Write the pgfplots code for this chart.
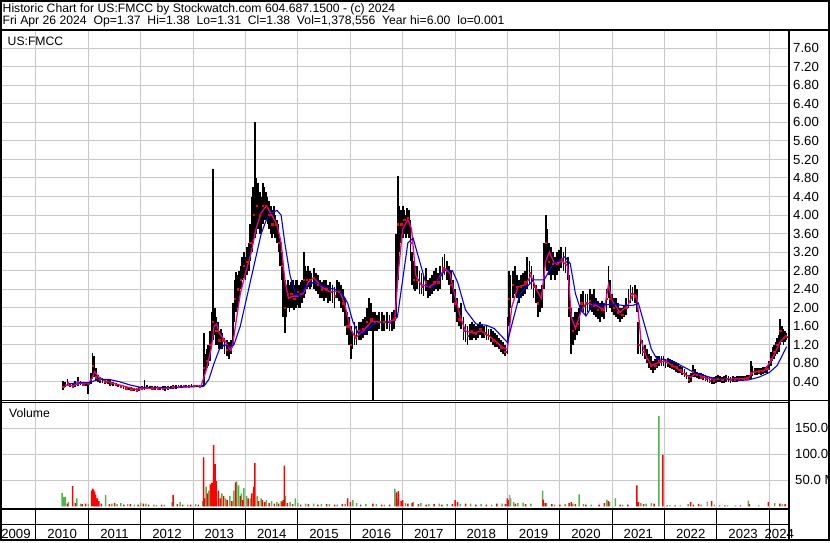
\documentclass[border=0pt]{standalone}
\usepackage{pgfplots}
\usepackage{pgfplotstable}
\pgfplotsset{compat=1.18}
\usepackage{fontspec}
\setmainfont{Liberation Sans}
\definecolor{gridc}{RGB}{200,200,200}
\definecolor{vgreen}{RGB}{76,184,72}
\definecolor{vred}{RGB}{255,0,0}
\definecolor{vgray}{RGB}{160,160,160}

\pgfplotstableread{
t lo hi cl
2010.52 0.22 0.42 0.30
2010.55 0.28 0.40 0.35
2010.60 0.30 0.45 0.38
2010.65 0.28 0.38 0.32
2010.70 0.27 0.36 0.30
2010.75 0.28 0.42 0.35
2010.80 0.32 0.50 0.40
2010.85 0.33 0.42 0.36
2010.90 0.32 0.40 0.35
2010.95 0.30 0.38 0.34
2011.00 0.13 0.40 0.36
2011.05 0.35 0.60 0.50
2011.08 0.45 1.03 0.75
2011.11 0.50 0.95 0.60
2011.14 0.42 0.70 0.50
2011.18 0.40 0.55 0.45
2011.22 0.38 0.50 0.44
2011.27 0.38 0.48 0.42
2011.32 0.36 0.46 0.40
2011.37 0.35 0.45 0.40
2011.42 0.32 0.43 0.37
2011.47 0.30 0.40 0.35
2011.52 0.30 0.38 0.33
2011.57 0.28 0.36 0.31
2011.62 0.26 0.34 0.29
2011.67 0.25 0.32 0.28
2011.72 0.24 0.30 0.26
2011.77 0.22 0.29 0.25
2011.82 0.21 0.28 0.24
2011.87 0.20 0.27 0.23
2011.92 0.20 0.27 0.22
2011.97 0.20 0.28 0.24
2012.02 0.22 0.30 0.26
2012.07 0.23 0.44 0.30
2012.12 0.24 0.34 0.28
2012.17 0.24 0.31 0.27
2012.22 0.23 0.30 0.26
2012.27 0.23 0.30 0.27
2012.32 0.24 0.30 0.26
2012.37 0.23 0.29 0.26
2012.42 0.22 0.30 0.25
2012.47 0.20 0.30 0.26
2012.52 0.23 0.31 0.27
2012.57 0.24 0.32 0.28
2012.62 0.25 0.34 0.29
2012.67 0.25 0.33 0.28
2012.72 0.26 0.33 0.29
2012.77 0.27 0.34 0.30
2012.82 0.28 0.34 0.31
2012.87 0.28 0.34 0.31
2012.92 0.28 0.34 0.30
2012.97 0.28 0.35 0.31
2013.02 0.28 0.34 0.31
2013.07 0.29 0.34 0.31
2013.12 0.28 0.33 0.30
2013.17 0.28 0.33 0.30
2013.20 0.30 1.45 0.70
2013.23 0.60 1.00 0.80
2013.26 0.70 1.10 0.85
2013.29 0.75 1.20 0.95
2013.32 0.85 1.50 1.20
2013.35 1.10 1.90 1.60
2013.38 1.30 5.00 1.70
2013.41 1.40 2.00 1.80
2013.44 1.20 1.80 1.50
2013.47 1.20 1.70 1.40
2013.50 1.10 1.50 1.30
2013.53 1.10 1.55 1.25
2013.56 1.10 1.45 1.30
2013.60 1.00 1.35 1.20
2013.64 0.95 1.30 1.10
2013.68 0.90 1.25 1.05
2013.72 1.00 1.30 1.10
2013.76 1.20 2.10 1.80
2013.79 1.70 2.60 2.20
2013.82 1.90 2.77 2.30
2013.85 2.00 2.70 2.40
2013.88 2.20 2.80 2.50
2013.91 2.40 2.90 2.60
2013.94 2.60 3.10 2.80
2013.97 2.65 3.20 2.90
2014.00 2.60 3.10 2.80
2014.03 2.70 3.30 3.00
2014.06 2.80 3.40 3.10
2014.09 3.00 3.80 3.40
2014.12 3.20 4.40 3.70
2014.15 3.40 4.60 4.00
2014.18 3.50 6.00 4.10
2014.21 3.60 4.80 4.20
2014.24 3.70 4.70 4.10
2014.27 3.60 4.50 4.00
2014.30 3.60 4.40 4.00
2014.33 3.80 4.70 4.20
2014.36 3.90 4.60 4.30
2014.39 3.90 4.50 4.20
2014.42 3.80 4.40 4.10
2014.45 3.70 4.30 4.00
2014.48 3.60 4.20 3.90
2014.51 3.50 4.10 3.80
2014.54 3.60 4.20 3.90
2014.57 3.50 4.00 3.80
2014.60 3.40 3.90 3.60
2014.63 3.20 3.80 3.40
2014.66 2.90 3.50 3.10
2014.69 2.60 3.20 2.90
2014.72 1.80 2.90 2.20
2014.75 1.45 2.60 2.00
2014.78 1.80 2.50 2.20
2014.81 2.00 2.60 2.30
2014.84 1.90 2.50 2.20
2014.87 2.00 2.55 2.30
2014.90 2.00 2.60 2.25
2014.93 1.95 2.50 2.20
2014.96 2.00 2.60 2.30
2014.99 2.05 2.60 2.35
2015.02 2.00 2.50 2.25
2015.05 2.00 2.55 2.30
2015.08 2.10 2.60 2.35
2015.11 2.20 3.20 2.60
2015.14 2.30 2.90 2.60
2015.17 2.40 2.80 2.60
2015.20 2.45 2.90 2.70
2015.23 2.40 2.80 2.60
2015.26 2.45 2.75 2.60
2015.30 2.40 2.85 2.65
2015.34 2.35 2.75 2.55
2015.38 2.30 2.70 2.50
2015.42 2.20 2.60 2.40
2015.46 2.20 2.55 2.40
2015.50 2.15 2.60 2.35
2015.54 2.20 2.60 2.40
2015.58 2.10 2.50 2.30
2015.62 2.15 2.55 2.35
2015.66 2.10 2.50 2.30
2015.70 2.00 2.45 2.25
2015.74 2.20 2.60 2.40
2015.78 2.15 2.55 2.35
2015.82 2.00 2.50 2.20
2015.86 1.90 2.40 2.10
2015.90 1.60 2.20 1.80
2015.94 1.40 1.90 1.60
2015.98 1.20 1.80 1.40
2016.01 0.90 1.60 1.20
2016.04 1.10 1.50 1.30
2016.08 1.20 1.70 1.40
2016.12 1.20 1.60 1.40
2016.16 1.30 1.70 1.50
2016.20 1.30 1.70 1.50
2016.24 1.35 1.75 1.55
2016.28 1.40 1.80 1.60
2016.32 1.40 2.00 1.70
2016.36 1.50 2.20 1.80
2016.40 1.50 2.10 1.75
2016.43 0.00 1.90 1.70
2016.47 1.50 1.90 1.70
2016.51 1.50 1.85 1.65
2016.55 1.55 1.90 1.70
2016.60 1.50 1.90 1.65
2016.65 1.50 1.85 1.70
2016.70 1.55 1.90 1.72
2016.75 1.50 1.85 1.68
2016.80 1.50 1.90 1.70
2016.84 1.55 1.95 1.75
2016.88 1.80 3.60 3.00
2016.91 2.60 4.84 3.80
2016.94 3.20 4.20 3.80
2016.97 3.40 4.10 3.80
2017.00 3.50 4.20 3.90
2017.03 3.60 4.10 3.90
2017.06 3.50 4.00 3.80
2017.09 3.60 4.15 3.95
2017.12 3.50 4.10 3.90
2017.15 3.00 3.90 3.40
2017.18 2.50 3.20 2.80
2017.21 2.40 3.00 2.60
2017.24 2.35 2.90 2.60
2017.28 2.40 2.90 2.60
2017.32 2.30 2.80 2.50
2017.36 2.30 2.75 2.45
2017.40 2.25 2.70 2.40
2017.44 2.35 2.85 2.55
2017.48 2.20 2.60 2.40
2017.52 2.25 2.65 2.45
2017.56 2.30 2.70 2.50
2017.60 2.35 2.80 2.55
2017.64 2.40 2.85 2.60
2017.68 2.35 2.75 2.55
2017.72 2.40 2.90 2.65
2017.76 2.60 3.10 2.85
2017.80 2.70 3.15 2.90
2017.84 2.60 3.00 2.80
2017.88 2.50 2.90 2.70
2017.92 2.30 2.80 2.50
2017.96 2.10 2.60 2.30
2018.00 1.90 2.40 2.10
2018.04 1.70 2.20 1.90
2018.08 1.60 2.00 1.75
2018.12 1.55 2.10 1.70
2018.16 1.30 1.80 1.50
2018.20 1.25 1.65 1.45
2018.24 1.20 1.60 1.40
2018.28 1.30 1.65 1.45
2018.32 1.30 1.70 1.50
2018.36 1.35 1.65 1.50
2018.40 1.30 1.60 1.45
2018.44 1.35 1.65 1.50
2018.48 1.40 1.70 1.55
2018.52 1.35 1.65 1.50
2018.56 1.35 1.60 1.45
2018.60 1.30 1.60 1.45
2018.64 1.30 1.55 1.40
2018.68 1.25 1.55 1.35
2018.72 1.20 1.50 1.30
2018.76 1.15 1.45 1.25
2018.80 1.15 1.40 1.25
2018.84 1.10 1.35 1.20
2018.88 1.05 1.30 1.15
2018.92 1.00 1.25 1.10
2018.96 0.95 1.20 1.05
2019.00 1.00 1.80 1.50
2019.03 1.60 2.80 2.20
2019.06 2.00 2.70 2.40
2019.10 2.20 2.80 2.50
2019.14 2.30 2.90 2.60
2019.18 2.20 2.70 2.45
2019.22 2.10 2.60 2.35
2019.26 2.20 2.70 2.45
2019.30 2.25 2.75 2.50
2019.34 2.30 2.80 2.55
2019.38 2.40 3.10 2.70
2019.42 2.50 3.00 2.75
2019.46 2.40 2.90 2.65
2019.50 2.20 2.70 2.45
2019.54 2.10 2.50 2.30
2019.58 1.80 2.40 2.10
2019.62 1.90 2.40 2.15
2019.66 2.00 2.50 2.30
2019.70 2.40 3.40 3.00
2019.73 2.90 4.00 3.40
2019.76 2.80 3.70 3.20
2019.79 2.70 3.40 3.00
2019.83 2.60 3.30 2.90
2019.87 2.70 3.20 2.95
2019.91 2.60 3.10 2.85
2019.95 2.70 3.20 2.95
2019.99 2.80 3.25 3.00
2020.03 2.85 3.30 3.05
2020.07 2.80 3.20 3.00
2020.11 2.75 3.30 3.00
2020.15 2.60 3.10 2.80
2020.18 1.80 2.70 2.00
2020.21 1.00 2.00 1.40
2020.25 1.20 1.80 1.50
2020.29 1.30 1.90 1.60
2020.33 1.40 1.90 1.65
2020.37 1.50 2.00 1.75
2020.41 1.90 2.30 2.10
2020.45 1.90 2.35 2.15
2020.49 1.85 2.30 2.10
2020.53 1.90 2.30 2.10
2020.57 1.95 2.40 2.15
2020.61 1.90 2.30 2.10
2020.65 1.85 2.40 2.05
2020.69 1.80 2.20 2.00
2020.73 1.75 2.15 1.95
2020.77 1.70 2.10 1.90
2020.81 1.80 2.15 1.95
2020.85 1.75 2.10 1.90
2020.89 1.90 2.40 2.20
2020.93 2.20 2.90 2.60
2020.96 2.00 2.60 2.20
2020.99 1.90 2.30 2.05
2021.03 1.85 2.20 2.00
2021.07 1.80 2.20 1.95
2021.11 1.75 2.10 1.90
2021.15 1.70 2.00 1.85
2021.19 1.75 2.00 1.85
2021.23 1.80 2.05 1.90
2021.27 1.85 2.20 2.00
2021.31 2.00 2.40 2.20
2021.35 2.10 2.50 2.30
2021.39 2.15 2.45 2.30
2021.43 2.10 2.50 2.25
2021.47 1.90 2.40 2.10
2021.50 1.00 1.70 1.20
2021.54 1.00 1.40 1.15
2021.58 0.95 1.30 1.05
2021.62 0.90 1.20 1.00
2021.66 0.80 1.10 0.90
2021.70 0.70 1.00 0.80
2021.74 0.65 0.95 0.75
2021.78 0.60 0.85 0.70
2021.82 0.65 0.90 0.75
2021.86 0.70 0.95 0.85
2021.90 0.75 0.95 0.85
2021.94 0.75 0.95 0.85
2021.98 0.75 0.95 0.85
2022.02 0.70 0.90 0.80
2022.06 0.72 0.92 0.82
2022.10 0.70 0.90 0.78
2022.14 0.68 0.88 0.76
2022.18 0.65 0.85 0.74
2022.22 0.62 0.82 0.72
2022.26 0.60 0.80 0.70
2022.30 0.58 0.75 0.66
2022.34 0.55 0.72 0.62
2022.38 0.50 0.68 0.58
2022.42 0.45 0.62 0.52
2022.46 0.38 0.55 0.45
2022.50 0.40 0.60 0.50
2022.54 0.50 0.76 0.62
2022.58 0.50 0.68 0.58
2022.62 0.48 0.62 0.55
2022.66 0.46 0.60 0.52
2022.70 0.45 0.58 0.50
2022.74 0.44 0.56 0.50
2022.78 0.42 0.55 0.48
2022.82 0.40 0.52 0.45
2022.86 0.38 0.50 0.43
2022.90 0.36 0.48 0.42
2022.94 0.35 0.50 0.42
2022.98 0.38 0.52 0.45
2023.02 0.40 0.55 0.47
2023.06 0.40 0.52 0.46
2023.10 0.38 0.50 0.44
2023.14 0.38 0.52 0.45
2023.18 0.40 0.55 0.47
2023.22 0.40 0.52 0.46
2023.26 0.38 0.50 0.45
2023.30 0.40 0.52 0.46
2023.34 0.40 0.50 0.45
2023.38 0.40 0.52 0.46
2023.42 0.42 0.52 0.47
2023.46 0.42 0.53 0.48
2023.50 0.42 0.52 0.47
2023.54 0.43 0.53 0.48
2023.58 0.43 0.54 0.48
2023.62 0.44 0.55 0.49
2023.65 0.45 0.85 0.60
2023.68 0.52 0.75 0.60
2023.72 0.55 0.70 0.62
2023.76 0.55 0.70 0.62
2023.80 0.56 0.70 0.63
2023.84 0.55 0.70 0.62
2023.88 0.56 0.72 0.64
2023.92 0.58 0.72 0.65
2023.96 0.60 0.75 0.68
2024.00 0.65 0.85 0.75
2024.03 0.75 1.05 0.90
2024.06 0.85 1.15 1.00
2024.09 0.90 1.20 1.05
2024.12 0.95 1.25 1.10
2024.15 1.00 1.35 1.20
2024.18 1.05 1.40 1.25
2024.21 1.20 1.75 1.50
2024.24 1.25 1.60 1.40
2024.27 1.20 1.55 1.35
2024.30 1.25 1.50 1.40
2024.33 1.31 1.45 1.38
}\price

\pgfplotstableread{
t v
2010.55 0.33
2010.70 0.32
2010.85 0.37
2011.00 0.36
2011.08 0.50
2011.12 0.62
2011.20 0.50
2011.30 0.43
2011.50 0.36
2011.70 0.30
2011.90 0.24
2012.10 0.26
2012.30 0.27
2012.50 0.26
2012.70 0.28
2012.90 0.30
2013.15 0.31
2013.25 0.65
2013.35 1.15
2013.40 1.60
2013.45 1.65
2013.50 1.45
2013.60 1.30
2013.70 1.10
2013.75 1.15
2013.82 1.70
2013.90 2.30
2014.00 2.75
2014.10 3.15
2014.20 3.70
2014.30 4.05
2014.40 4.20
2014.50 4.00
2014.60 3.80
2014.68 3.40
2014.75 2.60
2014.82 2.20
2014.90 2.25
2015.00 2.25
2015.10 2.30
2015.20 2.55
2015.30 2.65
2015.45 2.45
2015.60 2.35
2015.80 2.35
2015.90 2.05
2016.00 1.55
2016.10 1.35
2016.25 1.50
2016.40 1.70
2016.50 1.70
2016.70 1.68
2016.85 1.75
2016.92 2.80
2017.00 3.70
2017.10 3.90
2017.17 3.70
2017.25 2.70
2017.35 2.50
2017.50 2.45
2017.65 2.55
2017.80 2.85
2017.90 2.75
2018.00 2.25
2018.10 1.80
2018.20 1.50
2018.35 1.45
2018.50 1.50
2018.70 1.35
2018.90 1.15
2019.00 1.10
2019.08 2.00
2019.20 2.45
2019.35 2.50
2019.45 2.70
2019.55 2.40
2019.65 2.20
2019.73 3.00
2019.80 3.20
2019.90 2.95
2020.05 3.00
2020.15 2.90
2020.22 1.80
2020.30 1.55
2020.40 1.90
2020.50 2.10
2020.70 2.05
2020.85 1.95
2020.93 2.50
2021.00 2.15
2021.15 1.90
2021.30 2.05
2021.40 2.30
2021.47 2.25
2021.55 1.30
2021.65 0.95
2021.75 0.75
2021.85 0.80
2022.00 0.85
2022.20 0.72
2022.40 0.55
2022.50 0.50
2022.60 0.58
2022.80 0.48
2023.00 0.45
2023.30 0.46
2023.60 0.48
2023.70 0.62
2023.90 0.64
2024.05 0.88
2024.20 1.25
2024.33 1.41
}\mashort

\pgfplotstableread{
t v
2010.60 0.35
2010.80 0.38
2011.00 0.38
2011.20 0.45
2011.40 0.45
2011.60 0.40
2011.80 0.33
2012.00 0.28
2012.30 0.28
2012.60 0.27
2012.90 0.29
2013.20 0.30
2013.30 0.45
2013.40 0.80
2013.50 1.10
2013.60 1.20
2013.70 1.15
2013.78 1.20
2013.90 1.60
2014.00 2.10
2014.10 2.60
2014.20 3.10
2014.30 3.60
2014.40 3.90
2014.50 4.05
2014.60 4.10
2014.68 4.00
2014.75 3.40
2014.85 2.70
2014.95 2.30
2015.05 2.25
2015.15 2.45
2015.30 2.55
2015.50 2.45
2015.70 2.40
2015.85 2.30
2015.95 2.10
2016.05 1.70
2016.15 1.45
2016.25 1.45
2016.35 1.55
2016.50 1.68
2016.80 1.68
2016.90 1.80
2017.00 2.60
2017.10 3.40
2017.20 3.50
2017.30 3.10
2017.45 2.50
2017.55 2.42
2017.65 2.55
2017.80 2.80
2017.95 2.80
2018.05 2.55
2018.20 1.95
2018.40 1.65
2018.60 1.62
2018.75 1.55
2019.00 1.25
2019.10 1.70
2019.24 2.30
2019.50 2.60
2019.70 2.60
2019.88 2.95
2020.10 3.10
2020.20 2.95
2020.30 2.30
2020.40 1.95
2020.50 1.82
2020.65 2.10
2020.80 2.05
2021.00 2.08
2021.20 2.05
2021.40 2.05
2021.50 2.10
2021.60 1.70
2021.75 1.10
2021.85 0.90
2022.00 0.88
2022.20 0.82
2022.40 0.70
2022.60 0.58
2022.80 0.52
2023.00 0.46
2023.30 0.44
2023.60 0.44
2023.80 0.50
2024.00 0.60
2024.15 0.75
2024.33 1.16
}\malong

\pgfplotstableread{
t v
2010.50 26
2010.53 18
2010.56 18
2010.62 8
2010.78 15
2010.85 5
2011.00 4
2011.18 6
2011.33 22
2011.45 5
2011.55 4
2011.62 6
2011.75 4
2011.88 3
2012.00 7
2012.10 5
2012.25 3
2012.45 3
2012.60 8
2012.75 8
2012.90 3
2013.05 4
2013.18 10
2013.25 38
2013.30 30
2013.39 60
2013.45 20
2013.55 25
2013.62 15
2013.70 20
2013.78 30
2013.83 48
2013.87 40
2013.92 25
2013.97 35
2014.02 20
2014.10 15
2014.15 31
2014.22 20
2014.30 15
2014.40 12
2014.50 10
2014.60 8
2014.68 10
2014.76 20
2014.85 8
2014.95 15
2015.00 6
2015.15 5
2015.30 5
2015.45 4
2015.60 4
2015.75 3
2015.90 4
2016.05 12
2016.12 6
2016.30 4
2016.50 4
2016.65 3
2016.85 34
2016.90 14
2017.05 6
2017.20 8
2017.35 6
2017.50 4
2017.70 5
2017.85 4
2018.10 4
2018.30 5
2018.50 4
2018.70 3
2018.90 5
2019.06 15
2019.12 8
2019.20 6
2019.30 7
2019.45 5
2019.67 30
2019.75 6
2019.90 3
2020.10 4
2020.25 5
2020.37 23
2020.45 4
2020.60 3
2020.90 13
2020.95 8
2021.06 15
2021.20 3
2021.55 6
2021.65 5
2021.75 6
2021.89 174
2022.10 2
2022.30 2
2022.45 4
2022.70 3
2022.95 3
2023.20 2
2023.35 2
2023.60 11
2023.80 2
2024.10 6
2024.25 4
}\volgreen

\pgfplotstableread{
t v
2010.60 5
2010.70 39
2010.75 6
2010.88 4
2010.95 5
2011.06 30
2011.08 34
2011.10 32
2011.12 28
2011.14 22
2011.17 15
2011.20 10
2011.25 5
2011.40 4
2011.50 6
2011.68 3
2011.80 4
2011.95 3
2012.05 5
2012.15 3
2012.30 2
2012.40 3
2012.62 22
2012.70 4
2012.80 3
2012.95 3
2013.10 3
2013.20 94
2013.22 15
2013.27 25
2013.33 42
2013.36 45
2013.39 118
2013.42 81
2013.44 49
2013.48 30
2013.52 15
2013.58 20
2013.65 12
2013.74 10
2013.81 46
2013.90 20
2013.95 12
2014.05 15
2014.12 25
2014.16 38
2014.18 83
2014.25 10
2014.32 12
2014.37 8
2014.45 6
2014.55 5
2014.63 5
2014.70 8
2014.72 12
2014.74 78
2014.80 6
2014.90 4
2015.05 3
2015.20 4
2015.38 3
2015.55 4
2015.70 3
2015.85 4
2015.95 15
2016.00 8
2016.20 3
2016.43 5
2016.60 3
2016.75 3
2016.88 27
2016.92 29
2016.97 10
2017.00 12
2017.10 5
2017.18 6
2017.30 4
2017.45 3
2017.60 4
2017.75 3
2017.95 4
2018.00 12
2018.05 8
2018.20 5
2018.40 3
2018.60 3
2018.80 5
2018.96 4
2019.00 15
2019.03 12
2019.15 5
2019.35 4
2019.68 13
2019.72 6
2019.85 4
2020.00 3
2020.18 6
2020.22 8
2020.30 4
2020.50 3
2020.75 3
2020.85 6
2020.93 10
2021.15 3
2021.30 3
2021.47 40
2021.50 8
2021.60 4
2021.80 5
2021.97 99
2022.05 2
2022.20 2
2022.50 8
2022.55 3
2022.65 4
2022.90 10
2023.05 2
2023.15 2
2023.45 2
2023.62 4
2023.98 8
2024.20 5
2024.30 4
}\volred

\pgfplotstableread{
t v
2019.04 22
2022.82 9
}\volgray

\begin{document}
\begin{tikzpicture}[x=1pt,y=1pt,font=\fontsize{13.2}{16}\selectfont]
\useasboundingbox (0,0) rectangle (830,543);
\clip (0,0) rectangle (830,543);

% ---------------- price panel ----------------
\begin{axis}[
  at={(1pt,142.2pt)}, anchor=south west,
  scale only axis, width=788.2pt, height=369.5pt,
  xmin=2009.332, xmax=2024.38,
  ymin=-0.01, ymax=7.967,
  axis line style={draw=none},
  major tick length=0pt,
  xtick={2010,2011,...,2024}, xticklabels={},
  ytick={0.4,0.8,...,7.65},
  yticklabel pos=right,
  grid=major,
  grid style={gridc, line width=1pt},
  /pgf/number format/assume math mode=true,
  yticklabel style={anchor=west, inner sep=0pt, xshift=3.8pt,
    /pgf/number format/fixed, /pgf/number format/fixed zerofill,
    /pgf/number format/precision=2},
  clip=true,
]
\addplot[draw=none, mark=none,
  error bars/.cd, y dir=minus, y explicit, error mark=none,
  error bar style={draw=black, solid, line width=1.8pt}]
  table[x=t, y=hi, y error minus expr=\thisrow{hi}-\thisrow{lo}] {\price};
\addplot[only marks, mark=square*, mark size=0.65pt, vred, mark options={draw=none}, each nth point=2]
  table[x=t, y=cl] {\price};
\addplot[magenta, line width=1.3pt] table[x=t, y=v] {\mashort};
\addplot[blue, line width=1.1pt] table[x=t, y=v] {\malong};
\end{axis}

% ---------------- volume panel ----------------
\begin{axis}[
  at={(1pt,33.7pt)}, anchor=south west,
  scale only axis, width=788.2pt, height=107pt,
  xmin=2009.332, xmax=2024.38,
  ymin=-5.77, ymax=200,
  axis line style={draw=none},
  major tick length=0pt,
  xtick={2010,2011,...,2024}, xticklabels={},
  ytick={50,100,150}, yticklabels={50.0 M,100.0,150.0},
  yticklabel pos=right,
  grid=major,
  grid style={gridc, line width=1pt},
  yticklabel style={anchor=west, inner sep=0pt, xshift=5.8pt},
  clip=true,
]
\addplot[ybar, bar width=1.5pt, bar shift=0pt, fill=vgreen, draw=none] table[x=t, y=v] {\volgreen};
\addplot[ybar, bar width=1.5pt, bar shift=0pt, fill=vred, draw=none] table[x=t, y=v] {\volred};
\addplot[ybar, bar width=1.5pt, bar shift=0pt, fill=vgray, draw=none] table[x=t, y=v] {\volgray};
\end{axis}

% ---------------- year strip ----------------
\begin{axis}[
  at={(1pt,2.8pt)}, anchor=south west,
  scale only axis, width=788.2pt, height=30.9pt,
  xmin=2009.332, xmax=2024.38,
  ymin=0, ymax=1,
  axis line style={draw=none},
  major tick length=0pt,
  xtick={2010,2011,...,2024}, xticklabels={},
  ytick={0.498}, yticklabels={},
  grid=major,
  grid style={black, line width=1pt},
  clip=false,
  every node/.style={font=\fontsize{12.3}{14}\selectfont},
]
\node[anchor=base] at (axis cs:2009.618,0.061) {2009};
\node[anchor=base] at (axis cs:2010.5,0.061) {2010};
\node[anchor=base] at (axis cs:2011.5,0.061) {2011};
\node[anchor=base] at (axis cs:2012.5,0.061) {2012};
\node[anchor=base] at (axis cs:2013.5,0.061) {2013};
\node[anchor=base] at (axis cs:2014.5,0.061) {2014};
\node[anchor=base] at (axis cs:2015.5,0.061) {2015};
\node[anchor=base] at (axis cs:2016.5,0.061) {2016};
\node[anchor=base] at (axis cs:2017.5,0.061) {2017};
\node[anchor=base] at (axis cs:2018.5,0.061) {2018};
\node[anchor=base] at (axis cs:2019.5,0.061) {2019};
\node[anchor=base] at (axis cs:2020.5,0.061) {2020};
\node[anchor=base] at (axis cs:2021.5,0.061) {2021};
\node[anchor=base] at (axis cs:2022.5,0.061) {2022};
\node[anchor=base] at (axis cs:2023.5,0.061) {2023};
\node[anchor=base] at (axis cs:2024.19,0.061) {2024};
\end{axis}

% ---------------- texts ----------------
\begin{scope}[font=\fontsize{12.2}{14}\selectfont]
\node[anchor=base west, inner sep=0pt] at (2.5,530.7) {Historic Chart for US:FMCC by Stockwatch.com 604.687.1500 - (c) 2024};
\node[anchor=base west, inner sep=0pt] at (2.5,518) {Fri Apr 26 2024~~Op=1.37~~Hi=1.38~~Lo=1.31~~Cl=1.38~~Vol=1,378,556~~Year hi=6.00~~lo=0.001};
\node[anchor=base west, inner sep=0pt] at (7.5,497) {US:FMCC};
\node[anchor=base west, inner sep=0pt] at (9,125.3) {Volume};
\end{scope}

% ---------------- frame lines ----------------
\draw[line width=2.5pt] (0,513) -- (830,513);
\draw[line width=1pt] (0,142.2) -- (830,142.2);
\draw[line width=1pt] (0,140.7) -- (789.2,140.7);
\draw[line width=2pt] (0,33.7) -- (789.2,33.7);
\draw[line width=1.2pt] (0,18.2) -- (789.2,18.2);
\draw[line width=2.4pt] (789.2,513) -- (789.2,2.8);
\draw[line width=2pt] (1,2.8) rectangle (829,542.1);
\end{tikzpicture}
\end{document}
